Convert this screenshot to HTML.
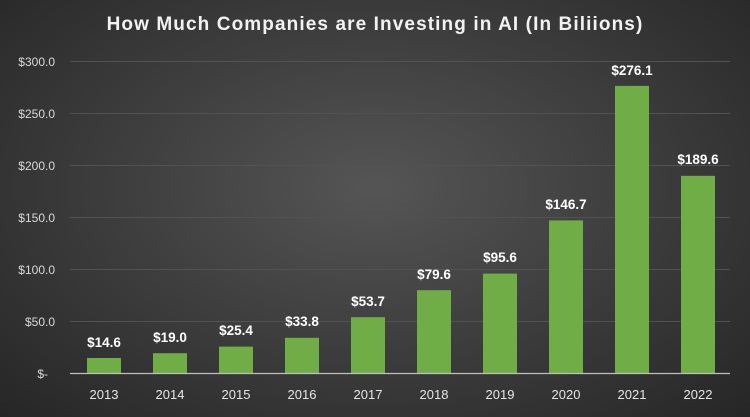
<!DOCTYPE html><html><head><style>
body{margin:0}
#c{width:750px;height:417px;position:relative;overflow:hidden;background:radial-gradient(ellipse at 50% 45%,#555 0%,#3d3d3d 50%,#262626 100%);font-family:"Liberation Sans",sans-serif}
</style></head><body><div id="c">
<svg width="750" height="417" style="position:absolute;left:0;top:0" font-family="Liberation Sans, sans-serif">
<text x="375" y="30" text-anchor="middle" fill="#f2f2f2" font-size="19" font-weight="bold" letter-spacing="1.1">How Much Companies are Investing in AI (In Biliions)</text>
<g stroke="#525252" stroke-width="1">
<line x1="70" x2="730" y1="61.5" y2="61.5"/><line x1="70" x2="730" y1="113.5" y2="113.5"/><line x1="70" x2="730" y1="165.5" y2="165.5"/><line x1="70" x2="730" y1="217.5" y2="217.5"/><line x1="70" x2="730" y1="269.5" y2="269.5"/><line x1="70" x2="730" y1="321.5" y2="321.5"/>
</g>
<g fill="#d9d9d9" font-size="12" text-anchor="end">
<text x="55" y="66">$300.0</text><text x="55" y="118">$250.0</text><text x="55" y="170">$200.0</text><text x="55" y="222">$150.0</text><text x="55" y="274">$100.0</text><text x="55" y="326">$50.0</text><text x="48" y="378">$-</text>
</g>
<g fill="#70ad47">
<rect x="87" y="358" width="34" height="15.2"/>
<rect x="153" y="353.2" width="34" height="19.8"/>
<rect x="219" y="346.6" width="34" height="26.4"/>
<rect x="285" y="337.8" width="34" height="35.2"/>
<rect x="351" y="317.2" width="34" height="55.8"/>
<rect x="417" y="290.2" width="34" height="82.8"/>
<rect x="483" y="273.6" width="34" height="99.4"/>
<rect x="549" y="220.4" width="34" height="152.6"/>
<rect x="615" y="85.9" width="34" height="287.1"/>
<rect x="681" y="175.8" width="34" height="197.2"/>
</g>
<line x1="70" x2="730" y1="373.5" y2="373.5" stroke="#bfbfbf" stroke-width="1.2"/>
<g fill="#fff" font-size="13.5" font-weight="bold" text-anchor="middle">
<text x="104" y="347">$14.6</text><text x="170" y="342">$19.0</text><text x="236" y="335">$25.4</text><text x="302" y="326">$33.8</text><text x="368" y="306">$53.7</text><text x="434" y="279">$79.6</text><text x="500" y="262">$95.6</text><text x="566" y="209">$146.7</text><text x="632" y="75">$276.1</text><text x="698" y="164">$189.6</text>
</g>
<g fill="#e6e6e6" font-size="13" text-anchor="middle">
<text x="104" y="399">2013</text><text x="170" y="399">2014</text><text x="236" y="399">2015</text><text x="302" y="399">2016</text><text x="368" y="399">2017</text><text x="434" y="399">2018</text><text x="500" y="399">2019</text><text x="566" y="399">2020</text><text x="632" y="399">2021</text><text x="698" y="399">2022</text>
</g>
</svg></div></body></html>
